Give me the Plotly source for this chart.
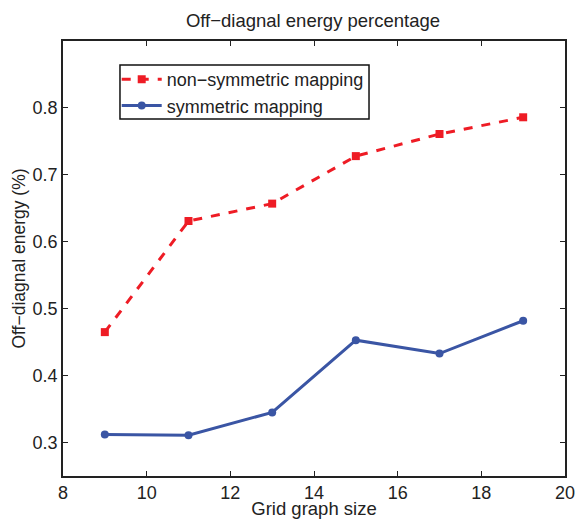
import plotly.graph_objects as go

grid_sizes = [9, 11, 13, 15, 17, 19]
non_symmetric = [0.465, 0.631, 0.657, 0.728, 0.761, 0.786]
symmetric = [0.312, 0.311, 0.345, 0.453, 0.433, 0.482]
x_ticks = [8, 10, 12, 14, 16, 18, 20]
y_ticks = [0.3, 0.4, 0.5, 0.6, 0.7, 0.8]

fig = go.Figure()
fig.add_trace(go.Scatter(
    x=grid_sizes, y=non_symmetric, mode="lines+markers",
    name="non\u2212symmetric mapping",
    line=dict(color="#ee1c25", width=3, dash="dash"),
    marker=dict(symbol="square", size=8, color="#ee1c25"),
))
fig.add_trace(go.Scatter(
    x=grid_sizes, y=symmetric, mode="lines+markers",
    name="symmetric mapping",
    line=dict(color="#3a55a4", width=3),
    marker=dict(symbol="circle", size=8, color="#3a55a4"),
))

axis_common = dict(
    showgrid=False, zeroline=False, showline=True, linecolor="#222",
    linewidth=1.5, mirror="ticks", ticks="inside", ticklen=5,
    tickcolor="#222", tickfont=dict(size=18, color="#222"), automargin=False,
)
fig.update_layout(
    width=577, height=519,
    plot_bgcolor="white", paper_bgcolor="white",
    font=dict(family="Liberation Sans, Arial, sans-serif", color="#222"),
    margin=dict(l=63, r=12, t=41, b=43),
    title=dict(text="Off\u2212diagnal energy percentage", x=313 / 577, xanchor="center",
               y=1 - 21 / 519, yanchor="middle", font=dict(size=18.5)),
    xaxis=dict(range=[8, 20], tickvals=x_ticks,
               title=dict(text="Grid graph size", font=dict(size=18.5), standoff=3),
               **axis_common),
    yaxis=dict(range=[0.25, 0.9], tickvals=y_ticks, tickformat=".1f",
               title=dict(text="Off\u2212diagnal energy (%)", font=dict(size=17.5), standoff=2),
               **axis_common),
    legend=dict(x=0.107, y=0.954, xanchor="left", yanchor="top",
                borderwidth=0, bgcolor="rgba(0,0,0,0)",
                font=dict(size=18), tracegroupgap=0, itemwidth=40),
    showlegend=True,
    shapes=[dict(type="rect", xref="paper", yref="paper",
                 x0=0.1135, x1=0.6096, y0=0.8207, y1=0.9448,
                 line=dict(color="#111", width=1.5), fillcolor="white", layer="above")],
)
fig.write_html(
    "out.html",
    config={"displayModeBar": False},
    post_script="document.body.style.margin='0';document.body.style.overflow='hidden';",
)
